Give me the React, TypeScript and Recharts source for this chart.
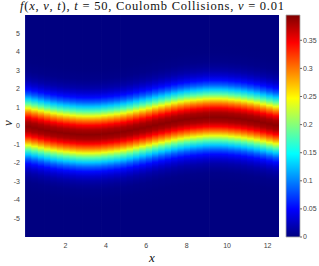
import React from 'react';
import { ComposedChart, XAxis, YAxis, ReferenceArea } from 'recharts';

// ---- values ----
const X_TICKS = [2, 4, 6, 8, 10, 12];
const V_TICKS = [-5, -4, -3, -2, -1, 0, 1, 2, 3, 4, 5];
const CB_TICKS = [0, 0.05, 0.1, 0.15, 0.2, 0.25, 0.3, 0.35];
const X_DOMAIN = [0, 12.566];
const V_DOMAIN = [-6, 6];
const C_DOMAIN = [0, 0.395];

// column centres in x and the v of the band ridge in each column
const COLUMN_X = [
  0.16, 0.47, 0.79, 1.1, 1.41, 1.73, 2.04, 2.36, 2.67, 2.98,
  3.3, 3.61, 3.93, 4.24, 4.55, 4.87, 5.18, 5.5, 5.81, 6.13,
  6.44, 6.75, 7.07, 7.38, 7.7, 8.01, 8.32, 8.64, 8.95, 9.27,
  9.58, 9.9, 10.21, 10.52, 10.84, 11.15, 11.47, 11.78, 12.09, 12.41,
];
const COLUMN_WIDTH = 0.3142;
const RIDGE_V = [
  -0.04, -0.11, -0.18, -0.25, -0.31, -0.36, -0.4, -0.43, -0.46, -0.47,
  -0.47, -0.46, -0.43, -0.4, -0.36, -0.31, -0.25, -0.18, -0.11, -0.04,
  0.04, 0.11, 0.18, 0.25, 0.31, 0.36, 0.4, 0.43, 0.46, 0.47,
  0.47, 0.46, 0.43, 0.4, 0.36, 0.31, 0.25, 0.18, 0.11, 0.04,
];
// f read along v at distances from the ridge
const PROFILE_DV = [0, 0.25, 0.5, 0.75, 1, 1.25, 1.5, 1.75, 2, 2.25, 2.5, 2.75, 3, 3.5, 4];
const PROFILE_F = [0.39, 0.378, 0.346, 0.3, 0.24, 0.181, 0.128, 0.085, 0.053, 0.031, 0.017, 0.009, 0.004, 0.001, 0];

// jet colormap
const clamp = (a: number) => Math.max(0, Math.min(1, a));
const jet = (t: number) => {
  const r = clamp(1.5 - Math.abs(4 * t - 3));
  const g = clamp(1.5 - Math.abs(4 * t - 2));
  const b = clamp(1.5 - Math.abs(4 * t - 1));
  const h = (c: number) => Math.round(c * 255).toString(16).padStart(2, '0');
  return '#' + h(r) + h(g) + h(b);
};
const colorOf = (f: number) => jet(f / C_DOMAIN[1]);

const columns = COLUMN_X.map((x, i) => ({ x, ridge: RIDGE_V[i], id: 'col' + i }));

function columnStops(ridge: number) {
  const pts: { v: number; f: number }[] = [];
  pts.push({ v: V_DOMAIN[1], f: 0 });
  for (let k = PROFILE_DV.length - 1; k >= 1; k--) pts.push({ v: ridge + PROFILE_DV[k], f: PROFILE_F[k] });
  pts.push({ v: ridge, f: PROFILE_F[0] });
  for (let k = 1; k < PROFILE_DV.length; k++) pts.push({ v: ridge - PROFILE_DV[k], f: PROFILE_F[k] });
  pts.push({ v: V_DOMAIN[0], f: 0 });
  const span = V_DOMAIN[1] - V_DOMAIN[0];
  return pts.map((p, j) => (
    <stop key={j} offset={(V_DOMAIN[1] - p.v) / span} stopColor={colorOf(p.f)} />
  ));
}

const serif = "'Liberation Serif', 'DejaVu Serif', serif";
const sans = "'Liberation Sans', 'DejaVu Sans', sans-serif";
const tickStyle = { fontSize: 7, fill: '#444', fontFamily: sans };

export default function App() {
  return (
    <div style={{ position: 'absolute', left: 0, top: 0, width: 319, height: 266, background: '#fff' }}>
      <svg width={0} height={0} style={{ position: 'absolute' }}>
        <defs>
          {columns.map((c) => (
            <linearGradient key={c.id} id={c.id} x1="0" y1="0" x2="0" y2="1">
              {columnStops(c.ridge)}
            </linearGradient>
          ))}
          <linearGradient id="cbar" x1="0" y1="1" x2="0" y2="0">
            <stop offset={0} stopColor="#00007f" />
            <stop offset={0.125} stopColor="#0000ff" />
            <stop offset={0.375} stopColor="#00ffff" />
            <stop offset={0.625} stopColor="#ffff00" />
            <stop offset={0.875} stopColor="#ff0000" />
            <stop offset={1} stopColor="#7f0000" />
          </linearGradient>
        </defs>
      </svg>

      <div style={{ position: 'absolute', left: 0, top: 0 }}>
        <ComposedChart width={319} height={266} data={columns} margin={{ top: 15, right: 40, bottom: 0, left: 0 }}>
          <XAxis
            type="number"
            dataKey="x"
            domain={X_DOMAIN}
            allowDataOverflow
            ticks={X_TICKS}
            tickLine={false}
            axisLine={false}
            tickSize={0}
            tickMargin={6}
            height={29}
            tick={tickStyle}
            label={{ value: 'x', position: 'insideBottom', offset: 0, dy: -4, style: { fontFamily: serif, fontStyle: 'italic', fontSize: 13, fill: '#111' } }}
          />
          <YAxis
            type="number"
            domain={V_DOMAIN}
            allowDataOverflow
            ticks={V_TICKS}
            tickLine={false}
            axisLine={false}
            tickSize={0}
            tickMargin={5}
            width={25}
            tick={tickStyle}
            label={{ value: 'v', angle: -90, position: 'insideLeft', offset: 0, dx: 7, style: { fontFamily: serif, fontStyle: 'italic', fontSize: 13, fill: '#111' } }}
          />
          {columns.map((c, i) => {
            const x1 = Math.max(X_DOMAIN[0], c.x - COLUMN_WIDTH / 2);
            const x2 = Math.min(X_DOMAIN[1], c.x + COLUMN_WIDTH / 2);
            const last = i === columns.length - 1;
            return (
              <ReferenceArea
                key={c.id}
                x1={x1}
                x2={x2}
                y1={V_DOMAIN[0]}
                y2={V_DOMAIN[1]}
                ifOverflow="visible"
                isFront={false}
                shape={(p: any) => (
                  <rect x={p.x} y={p.y} width={p.width + (last ? 0 : 0.8)} height={p.height} fill={`url(#${c.id})`} stroke="none" />
                )}
              />
            );
          })}
        </ComposedChart>
      </div>

      <div style={{ position: 'absolute', left: 0, top: 0 }}>
        <ComposedChart width={319} height={266} data={[{ k: 0 }, { k: 1 }]} margin={{ top: 15, right: 0, bottom: 29, left: 286 }}>
          <XAxis type="number" dataKey="k" domain={[0, 1]} hide />
          <YAxis
            type="number"
            orientation="right"
            domain={C_DOMAIN}
            allowDataOverflow
            ticks={CB_TICKS}
            tickLine={{ stroke: '#666' }}
            axisLine={false}
            tickSize={2}
            tickMargin={1}
            width={19}
            tick={tickStyle}
          />
          <ReferenceArea
            x1={0}
            x2={1}
            y1={C_DOMAIN[0]}
            y2={C_DOMAIN[1]}
            ifOverflow="visible"
            fill="url(#cbar)"
            fillOpacity={1}
            stroke="#aaa"
            strokeWidth={0.8}
          />
        </ComposedChart>
      </div>

      <svg width={319} height={20} style={{ position: 'absolute', left: 0, top: 0 }}>
        <text x={152} y={10} textAnchor="middle" fontFamily={serif} fontSize={12.5} fill="#111" textLength={264} lengthAdjust="spacing">
          <tspan fontStyle="italic">f</tspan>(<tspan fontStyle="italic">x</tspan>, <tspan fontStyle="italic">v</tspan>, <tspan fontStyle="italic">t</tspan>), <tspan fontStyle="italic">t</tspan> = 50, Coulomb Collisions, <tspan fontStyle="italic">ν</tspan> = 0.01
        </text>
      </svg>
    </div>
  );
}
